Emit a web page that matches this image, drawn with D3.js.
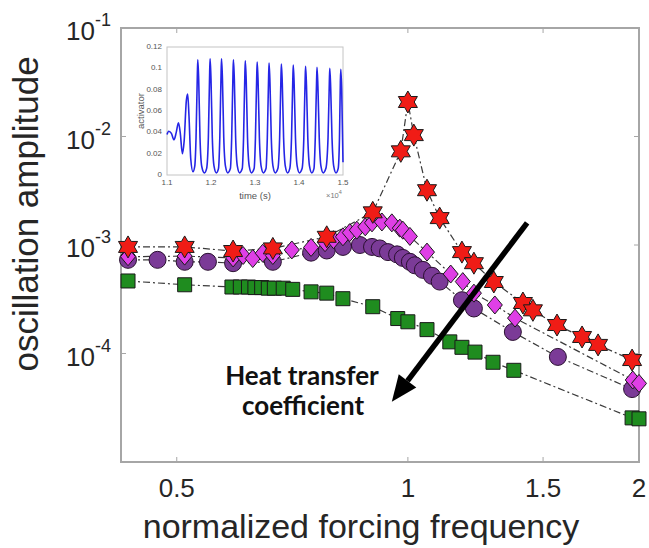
<!DOCTYPE html>
<html>
<head>
<meta charset="utf-8">
<script src="https://cdn.jsdelivr.net/npm/d3@7"></script>
<style>
  body { margin: 0; background: #fff; }
  svg { display: block; }
</style>
</head>
<body>
<div id="chart"></div>
<script>
// data
const starFreq = [0.432, 0.512, 0.592, 0.667, 0.784, 0.90, 0.979, 1.0, 1.018, 1.059, 1.10, 1.176, 1.219, 1.294, 1.412, 1.455, 1.564, 1.686, 1.769, 1.959];
const starAmp = [9.6e-4, 9.6e-4, 8.8e-4, 9.3e-4, 1.19e-3, 2.0e-3, 7.3e-3, 2.08e-2, 1.03e-2, 3.2e-3, 1.77e-3, 8.6e-4, 6.8e-4, 4.56e-4, 2.92e-4, 2.5e-4, 1.83e-4, 1.42e-4, 1.2e-4, 8.7e-5];

const diamondFreq = [0.432, 0.512, 0.592, 0.61, 0.628, 0.647, 0.667, 0.706, 0.748, 0.78, 0.80, 0.823, 0.84, 0.858, 0.88, 0.898, 0.925, 0.953, 0.976, 0.985, 1.006, 1.059, 1.137, 1.179, 1.219, 1.298, 1.379, 1.963, 2.0];
const diamondAmp = [7.8e-4, 7.9e-4, 7.6e-4, 8.0e-4, 7.5e-4, 8.4e-4, 8.0e-4, 9.0e-4, 9.5e-4, 1.05e-3, 1.12e-3, 1.19e-3, 1.3e-3, 1.37e-3, 1.47e-3, 1.6e-3, 1.63e-3, 1.6e-3, 1.43e-3, 1.37e-3, 1.2e-3, 8.6e-4, 5.4e-4, 4.6e-4, 3.6e-4, 2.8e-4, 2.12e-4, 5.7e-5, 5.3e-5];

const circleFreq = [0.432, 0.472, 0.512, 0.549, 0.592, 0.667, 0.748, 0.784, 0.823, 0.866, 0.898, 0.919, 0.942, 0.968, 0.985, 1.006, 1.021, 1.046, 1.075, 1.10, 1.176, 1.219, 1.37, 1.568, 1.959];
const circleAmp = [7.3e-4, 7.3e-4, 7.0e-4, 7.0e-4, 6.8e-4, 7.0e-4, 8.5e-4, 8.9e-4, 9.6e-4, 1.0e-3, 9.6e-4, 9.3e-4, 8.6e-4, 8.2e-4, 7.6e-4, 7.0e-4, 6.5e-4, 5.9e-4, 5.2e-4, 4.6e-4, 3.1e-4, 2.6e-4, 1.58e-4, 9.3e-5, 4.7e-5];

const squareFreq = [0.432, 0.512, 0.59, 0.605, 0.62, 0.632, 0.645, 0.658, 0.67, 0.688, 0.708, 0.748, 0.784, 0.823, 0.90, 0.97, 1.0, 1.059, 1.134, 1.176, 1.223, 1.291, 1.374, 1.959, 2.0];
const squareAmp = [4.66e-4, 4.3e-4, 4.1e-4, 4.1e-4, 4.1e-4, 4.05e-4, 4.05e-4, 4.0e-4, 4.0e-4, 4.0e-4, 3.9e-4, 3.7e-4, 3.6e-4, 3.2e-4, 2.7e-4, 2.1e-4, 1.96e-4, 1.66e-4, 1.28e-4, 1.14e-4, 1.03e-4, 8.3e-5, 7.0e-5, 2.55e-5, 2.5e-5];

const xTicks = [0.5, 1, 1.5, 2];
const yTickExp = [-1, -2, -3, -4];

// inset: activator vs time (x 1e4 s)
const insetTime = [1.100, 1.104, 1.110, 1.116, 1.121, 1.126, 1.130, 1.135, 1.139, 1.144, 1.147, 1.150, 1.154, 1.159, 1.163,
  1.166, 1.169, 1.170, 1.172, 1.175, 1.179, 1.185, 1.190,
  1.194, 1.197, 1.198, 1.200, 1.203, 1.207, 1.212, 1.217,
  1.220, 1.223, 1.224, 1.226, 1.229, 1.233, 1.238, 1.244,
  1.247, 1.250, 1.251, 1.253, 1.256, 1.260, 1.265, 1.271,
  1.274, 1.277, 1.278, 1.280, 1.283, 1.287, 1.292, 1.298,
  1.301, 1.304, 1.305, 1.307, 1.310, 1.314, 1.319, 1.325,
  1.328, 1.331, 1.332, 1.334, 1.337, 1.341, 1.346, 1.352,
  1.356, 1.359, 1.360, 1.362, 1.365, 1.369, 1.374, 1.379,
  1.383, 1.386, 1.387, 1.389, 1.392, 1.396, 1.401, 1.407,
  1.411, 1.414, 1.415, 1.417, 1.420, 1.424, 1.429, 1.434,
  1.437, 1.440, 1.441, 1.443, 1.446, 1.450, 1.455, 1.461,
  1.466, 1.469, 1.470, 1.472, 1.475, 1.479, 1.484, 1.489,
  1.492, 1.494, 1.495, 1.497, 1.500];
const insetValue = [0.038, 0.041, 0.039, 0.033, 0.040, 0.049, 0.040, 0.020, 0.032, 0.070, 0.076, 0.055, 0.015, 0.003, 0.008,
  0.035, 0.095, 0.108, 0.090, 0.035, 0.008, 0.002, 0.006,
  0.035, 0.097, 0.109, 0.090, 0.035, 0.008, 0.002, 0.006,
  0.035, 0.097, 0.109, 0.090, 0.035, 0.008, 0.002, 0.006,
  0.035, 0.096, 0.108, 0.090, 0.035, 0.008, 0.002, 0.006,
  0.035, 0.095, 0.107, 0.089, 0.035, 0.008, 0.002, 0.006,
  0.035, 0.094, 0.106, 0.088, 0.035, 0.008, 0.002, 0.006,
  0.035, 0.093, 0.105, 0.087, 0.035, 0.008, 0.002, 0.006,
  0.035, 0.092, 0.104, 0.086, 0.035, 0.008, 0.002, 0.006,
  0.035, 0.091, 0.103, 0.085, 0.035, 0.008, 0.002, 0.006,
  0.035, 0.090, 0.102, 0.084, 0.035, 0.008, 0.002, 0.006,
  0.035, 0.089, 0.101, 0.083, 0.035, 0.008, 0.002, 0.006,
  0.035, 0.088, 0.100, 0.082, 0.035, 0.008, 0.002, 0.006,
  0.035, 0.087, 0.099, 0.081, 0.012];
const insetXTicks = [1.1, 1.2, 1.3, 1.4, 1.5];
const insetYTicks = [0, 0.02, 0.04, 0.06, 0.08, 0.1, 0.12];

const width = 649, height = 548;
const plot = {left: 121, right: 639, top: 28, bottom: 462};
const axisGray = "#a6a6a6";
const tickText = "#262626";

const svg = d3.select("#chart").append("svg")
  .attr("width", width)
  .attr("height", height)
  .style("font-family", "'Liberation Sans', Arial, sans-serif");

const x = d3.scaleLog().domain([0.423, 2]).range([plot.left, plot.right]);
const y = d3.scaleLog().domain([1e-5, 1e-1]).range([plot.bottom, plot.top]);

// hexagram marker (star of david), point up
function hexagram(r) {
  const pts = [];
  for (let i = 0; i < 12; i++) {
    const a = -Math.PI / 2 + i * Math.PI / 6;
    const rr = (i % 2 === 0) ? r : r / Math.sqrt(3);
    pts.push([rr * Math.cos(a), rr * Math.sin(a)]);
  }
  return "M" + pts.map(p => p[0].toFixed(2) + "," + p[1].toFixed(2)).join("L") + "Z";
}
function diamond(w, h) {
  return `M0,${-h}L${w},0L0,${h}L${-w},0Z`;
}
function square(s) {
  return `M${-s},${-s}H${s}V${s}H${-s}Z`;
}

const series = [
  {freq: squareFreq, amp: squareAmp, fill: "#1f8c1f", path: square(7), circle: false},
  {freq: circleFreq, amp: circleAmp, fill: "#7b3b97", circle: true},
  {freq: diamondFreq, amp: diamondAmp, fill: "#df3fe6", path: diamond(7.5, 9)},
  {freq: starFreq, amp: starAmp, fill: "#f01c16", path: hexagram(11)}
];

// box
svg.append("rect")
  .attr("x", plot.left).attr("y", plot.top)
  .attr("width", plot.right - plot.left).attr("height", plot.bottom - plot.top)
  .attr("fill", "none").attr("stroke", axisGray).attr("stroke-width", 2);

// ticks, inside on all sides
xTicks.forEach(function (t) {
  const px = x(t);
  svg.append("line").attr("x1", px).attr("x2", px).attr("y1", plot.bottom).attr("y2", plot.bottom - 5)
    .attr("stroke", axisGray);
  svg.append("line").attr("x1", px).attr("x2", px).attr("y1", plot.top).attr("y2", plot.top + 5)
    .attr("stroke", axisGray);
  svg.append("text").attr("x", px).attr("y", plot.bottom + 35)
    .attr("text-anchor", "middle").attr("font-size", 26).attr("fill", tickText)
    .text(t);
});
yTickExp.forEach(function (e) {
  const py = y(Math.pow(10, e));
  svg.append("line").attr("x1", plot.left).attr("x2", plot.left + 5).attr("y1", py).attr("y2", py)
    .attr("stroke", axisGray);
  svg.append("line").attr("x1", plot.right).attr("x2", plot.right - 5).attr("y1", py).attr("y2", py)
    .attr("stroke", axisGray);
  const lab = svg.append("text").attr("x", 111).attr("y", py + 12)
    .attr("text-anchor", "end").attr("font-size", 26).attr("fill", tickText);
  lab.append("tspan").text("10");
  lab.append("tspan").attr("dy", -14).attr("font-size", 18).text(e);
});

// axis titles
svg.append("text")
  .attr("transform", "translate(38,214) rotate(-90)")
  .attr("text-anchor", "middle").attr("font-size", 35).attr("fill", tickText)
  .text("oscillation amplitude");
svg.append("text")
  .attr("x", 361).attr("y", 538)
  .attr("text-anchor", "middle").attr("font-size", 34).attr("fill", tickText)
  .text("normalized forcing frequency");

// dash-dot lines
const line = d3.line().x(d => x(d[0])).y(d => y(d[1]));
series.forEach(function (s) {
  const pts = s.freq.map((f, i) => [f, s.amp[i]]);
  svg.append("path").datum(pts)
    .attr("d", line)
    .attr("fill", "none").attr("stroke", "#3a3a3a").attr("stroke-width", 1.2)
    .attr("stroke-dasharray", "7,3,2,3");
});

// markers
series.forEach(function (s) {
  const pts = s.freq.map((f, i) => [f, s.amp[i]]);
  const g = svg.append("g");
  if (s.circle) {
    g.selectAll("circle").data(pts).join("circle")
      .attr("cx", d => x(d[0])).attr("cy", d => y(d[1])).attr("r", 8.5)
      .attr("fill", s.fill).attr("stroke", "#2a1030").attr("stroke-width", 1);
  } else {
    g.selectAll("path").data(pts).join("path")
      .attr("transform", d => `translate(${x(d[0])},${y(d[1])})`)
      .attr("d", s.path)
      .attr("fill", s.fill).attr("stroke", "#1a1a1a").attr("stroke-width", 1);
  }
});

// arrow + annotation (ends given in data units)
const arrowTail = [1.43, 1.6e-3];
const arrowHead = [0.953, 3.6e-5];
const ax1 = x(arrowTail[0]), ay1 = y(arrowTail[1]);
const ax2 = x(arrowHead[0]), ay2 = y(arrowHead[1]);
const ang = Math.atan2(ay2 - ay1, ax2 - ax1);
const headLen = 26, headW = 11;
const bx = ax2 - headLen * Math.cos(ang), by = ay2 - headLen * Math.sin(ang);
svg.append("line").attr("x1", ax1).attr("y1", ay1).attr("x2", bx).attr("y2", by)
  .attr("stroke", "#000").attr("stroke-width", 5.5);
svg.append("path")
  .attr("d", `M${ax2},${ay2}L${bx + headW * Math.sin(ang)},${by - headW * Math.cos(ang)}L${bx - headW * Math.sin(ang)},${by + headW * Math.cos(ang)}Z`)
  .attr("fill", "#000");

const note = svg.append("text")
  .attr("text-anchor", "middle").attr("font-size", 26).attr("font-weight", "bold")
  .attr("font-family", "Lato, 'Open Sans', sans-serif").attr("fill", "#111");
note.append("tspan").attr("x", 302).attr("y", 385).text("Heat transfer");
note.append("tspan").attr("x", 303).attr("y", 415).text("coefficient");

// inset
const inset = {left: 167, right: 343, top: 47, bottom: 175};
const ix = d3.scaleLinear().domain([1.1, 1.5]).range([inset.left, inset.right]);
const iy = d3.scaleLinear().domain([0, 0.12]).range([inset.bottom, inset.top]);
const ig = svg.append("g");
ig.append("rect").attr("x", inset.left).attr("y", inset.top)
  .attr("width", inset.right - inset.left).attr("height", inset.bottom - inset.top)
  .attr("fill", "#fff").attr("stroke", "#c4c4c4").attr("stroke-width", 1);
insetXTicks.forEach(function (t) {
  ig.append("text").attr("x", ix(t)).attr("y", inset.bottom + 10)
    .attr("text-anchor", "middle").attr("font-size", 8).attr("fill", "#555")
    .text(t.toFixed(1));
});
insetYTicks.forEach(function (t) {
  ig.append("text").attr("x", inset.left - 5).attr("y", iy(t) + 2)
    .attr("text-anchor", "end").attr("font-size", 8).attr("fill", "#555")
    .text(t === 0 ? "0" : String(t));
});
ig.append("text").attr("x", 255).attr("y", 199)
  .attr("text-anchor", "middle").attr("font-size", 9.5).attr("fill", "#555")
  .text("time (s)");
const xe = ig.append("text").attr("x", 326).attr("y", 198)
  .attr("font-size", 7.5).attr("fill", "#777");
xe.append("tspan").text("\u00d710");
xe.append("tspan").attr("dy", -4).attr("font-size", 5.5).text("4");
ig.append("text")
  .attr("transform", "translate(144,111) rotate(-90)")
  .attr("text-anchor", "middle").attr("font-size", 9.5).attr("fill", "#555")
  .text("activator");
const insetLine = d3.line().x(d => ix(d[0])).y(d => iy(d[1])).curve(d3.curveMonotoneX);
ig.append("path")
  .datum(insetTime.map((t, i) => [t, insetValue[i]]))
  .attr("d", insetLine)
  .attr("fill", "none").attr("stroke", "#2525e6").attr("stroke-width", 1.6);
</script>
</body>
</html>
